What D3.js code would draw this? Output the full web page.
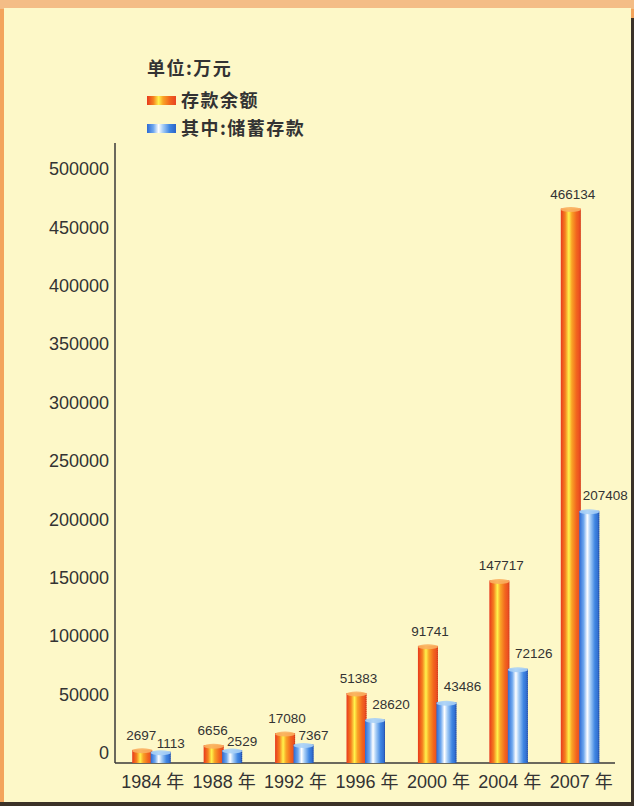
<!DOCTYPE html>
<html>
<head>
<meta charset="utf-8">
<script src="https://cdn.jsdelivr.net/npm/d3@7"></script>
<style>
  html, body { margin: 0; padding: 0; background: #f3a45c; }
  svg { display: block; }
</style>
</head>
<body>
<div id="chart"></div>
<script>
// chart data
var years = ["1984", "1988", "1992", "1996", "2000", "2004", "2007"];
var totalDeposits = [2697, 6656, 17080, 51383, 91741, 147717, 466134];
var savingsDeposits = [1113, 2529, 7367, 28620, 43486, 72126, 207408];
var yTicks = [0, 50000, 100000, 150000, 200000, 250000, 300000, 350000, 400000, 450000, 500000];
var seriesNames = ["存款余额", "其中:储蓄存款"];
var unitLabel = "单位:万元";

var svgWidth = 634;
var svgHeight = 806;

var svg = d3.select("#chart")
  .append("svg")
  .attr("width", svgWidth)
  .attr("height", svgHeight);

var defs = svg.append("defs");

// orange / blue cylinder shading
function addGradient(id, stops) {
  var g = defs.append("linearGradient")
    .attr("id", id)
    .attr("x1", "0%").attr("x2", "100%")
    .attr("y1", "0%").attr("y2", "0%");
  stops.forEach(function(s) {
    g.append("stop").attr("offset", s[0]).attr("stop-color", s[1]);
  });
}
addGradient("gradOrange", [
  ["0%", "#e8391d"], ["22%", "#f5801f"], ["40%", "#fff24c"],
  ["55%", "#f9a426"], ["78%", "#f2661e"], ["100%", "#e84522"]
]);
addGradient("gradBlue", [
  ["0%", "#2c6ad4"], ["22%", "#6fa8ee"], ["40%", "#ffffff"],
  ["55%", "#a6cdf6"], ["78%", "#3f86e2"], ["100%", "#2a64c8"]
]);

// frame: orange border top/left, dark edge right/bottom, cream panel
svg.append("rect")
  .attr("x", 0).attr("y", 0)
  .attr("width", svgWidth).attr("height", 9)
  .attr("fill", "#f4bd86");
svg.append("rect")
  .attr("x", 4).attr("y", 8)
  .attr("width", 627).attr("height", 794)
  .attr("fill", "#fdf8c8");
svg.append("rect")
  .attr("x", 631).attr("y", 18)
  .attr("width", 3).attr("height", 788)
  .attr("fill", "#3b3228");
svg.append("rect")
  .attr("x", 0).attr("y", 802)
  .attr("width", svgWidth).attr("height", 4)
  .attr("fill", "#3b3228");

// scales
var axisX = 115;
var axisY = 763;

var xScale = d3.scaleBand()
  .domain(years)
  .range([axisX, 615]);

var subScale = d3.scaleBand()
  .domain(["total", "savings"])
  .range([-18.5, 18.5]);

var yScale = d3.scaleLinear()
  .domain([0, 500000])
  .range([753, 169]);

var barW = subScale.bandwidth() + 1.5;

// y axis
var yAxis = d3.axisLeft(yScale)
  .tickValues(yTicks)
  .tickSize(0)
  .tickPadding(6)
  .tickFormat(d3.format("d"));

var yAxisG = svg.append("g")
  .attr("transform", "translate(" + axisX + ",0)")
  .call(yAxis);
yAxisG.select(".domain").remove();
yAxisG.selectAll("text")
  .attr("font-family", "Liberation Sans, Arial, sans-serif")
  .attr("font-size", 18)
  .attr("fill", "#333");

svg.append("line")
  .attr("x1", axisX).attr("x2", axisX)
  .attr("y1", 143).attr("y2", axisY)
  .attr("stroke", "#3a3a3a").attr("stroke-width", 1.5);

// x axis
svg.append("line")
  .attr("x1", axisX).attr("x2", 615)
  .attr("y1", axisY).attr("y2", axisY)
  .attr("stroke", "#3a3a3a").attr("stroke-width", 1.5);

svg.selectAll(".yearLabel")
  .data(years)
  .enter()
  .append("text")
  .attr("class", "yearLabel")
  .attr("x", function(d) { return xScale(d) + xScale.bandwidth() / 2 + 2; })
  .attr("y", 788)
  .attr("text-anchor", "middle")
  .attr("font-family", "Liberation Sans, Noto Sans CJK SC, sans-serif")
  .attr("font-size", 18)
  .attr("fill", "#333")
  .text(function(d) { return d + " 年"; });

// bars
var rows = years.map(function(y, i) {
  return { year: y, total: totalDeposits[i], savings: savingsDeposits[i] };
});

function drawSeries(key, grad, capColor, edgeColor) {
  var g = svg.append("g").attr("class", "series-" + key);
  var bx = function(d) {
    return xScale(d.year) + xScale.bandwidth() / 2 + subScale(key);
  };
  g.selectAll("rect")
    .data(rows)
    .enter()
    .append("rect")
    .attr("x", bx)
    .attr("y", function(d) { return yScale(d[key]); })
    .attr("width", barW)
    .attr("height", function(d) { return axisY - yScale(d[key]); })
    .attr("fill", "url(#" + grad + ")");
  g.selectAll("line")
    .data(rows)
    .enter()
    .append("line")
    .attr("x1", function(d) { return bx(d) + barW - 0.5; })
    .attr("x2", function(d) { return bx(d) + barW - 0.5; })
    .attr("y1", function(d) { return yScale(d[key]) + 2; })
    .attr("y2", axisY)
    .attr("stroke", edgeColor)
    .attr("stroke-width", 1)
    .attr("stroke-dasharray", "1,1");
  g.selectAll("ellipse")
    .data(rows)
    .enter()
    .append("ellipse")
    .attr("cx", function(d) { return bx(d) + barW / 2; })
    .attr("cy", function(d) { return yScale(d[key]) + 1; })
    .attr("rx", barW / 2)
    .attr("ry", 2.5)
    .attr("fill", capColor)
    .attr("opacity", 0.9);
  return bx;
}

var bxTotal = drawSeries("total", "gradOrange", "#f9b060", "#c8401c");
var bxSavings = drawSeries("savings", "gradBlue", "#a9d0f6", "#2a4a9a");

// value labels (small bars get staggered rows so they don't collide)
svg.selectAll(".totalLabel")
  .data(rows)
  .enter()
  .append("text")
  .attr("class", "totalLabel")
  .attr("x", function(d) { return bxTotal(d) + barW / 2 + (d.total < 10000 ? -1 : 2); })
  .attr("y", function(d) { return Math.min(yScale(d.total) - 10, 740); })
  .attr("text-anchor", "middle")
  .attr("font-family", "Liberation Sans, Arial, sans-serif")
  .attr("font-size", 13.5)
  .attr("fill", "#333")
  .text(function(d) { return d.total; });

svg.selectAll(".savingsLabel")
  .data(rows)
  .enter()
  .append("text")
  .attr("class", "savingsLabel")
  .attr("x", function(d) {
    return bxSavings(d) + barW / 2 + (d.savings < 10000 ? 10 : 16);
  })
  .attr("y", function(d) {
    return d.savings < 10000 ? Math.min(755, yScale(d.savings) - 4) : yScale(d.savings) - 11;
  })
  .attr("text-anchor", "middle")
  .attr("font-family", "Liberation Sans, Arial, sans-serif")
  .attr("font-size", 13.5)
  .attr("fill", "#333")
  .text(function(d) { return d.savings; });

// legend
var legend = svg.append("g")
  .attr("font-family", "Noto Sans CJK SC, sans-serif")
  .attr("font-weight", "bold")
  .attr("font-size", 18)
  .attr("fill", "#333");

legend.append("text")
  .attr("x", 147).attr("y", 75)
  .attr("letter-spacing", 1.5)
  .text(unitLabel);

var legendGrads = ["gradOrange", "gradBlue"];
seriesNames.forEach(function(name, i) {
  legend.append("rect")
    .attr("x", 147).attr("y", 96 + i * 28)
    .attr("width", 29).attr("height", 9)
    .attr("fill", "url(#" + legendGrads[i] + ")");
  legend.append("text")
    .attr("x", 181).attr("y", 107 + i * 28)
    .attr("letter-spacing", 1.5)
    .text(name);
});
</script>
</body>
</html>
